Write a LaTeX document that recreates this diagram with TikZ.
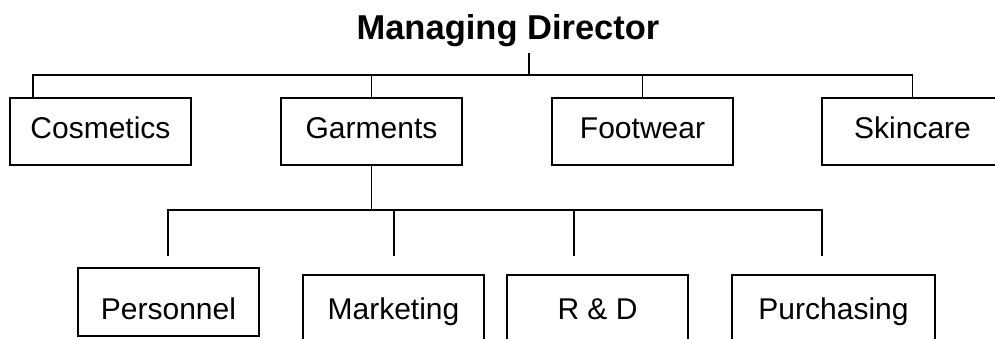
\documentclass[tikz,border=0pt]{standalone}
\usepackage{fontspec}
\setmainfont{Liberation Sans}
\usepackage{tikz}
\usetikzlibrary{positioning}
\tikzset{
    dept/.style={draw, line width=1.5pt, minimum width=181pt, minimum height=67pt,
        inner sep=0pt, text height=20pt, text depth=5pt, font=\fontsize{30}{35}\selectfont},
    unit/.style={dept, minimum height=73pt},
    link/.style={line width=1.5pt}
}

\begin{document}
\begin{tikzpicture}[x=1pt, y=-1pt]
                \useasboundingbox (0,0) rectangle (995,339);
                \node (md) [anchor=base, inner sep=0pt, font=\fontsize{34.5}{40}\selectfont\bfseries] at (508,40) {Managing Director};
                \node (cos) [dept] at (100.5,131.5) {Cosmetics};
                \node (gar) [dept] at (371.5,131.5) {Garments};
                \node (foot) [dept] at (642.5,131.5) {Footwear};
                \node (skin) [dept] at (912.5,131.5) {Skincare};
                \node (pers) [unit, minimum height=68pt, text height=39pt] at (168.5,302) {Personnel};
                \node (mkt) [unit] at (393.5,311.5) {Marketing};
                \node (rd) [unit] at (597.5,311.5) {R \& D};
                \node (pur) [unit, minimum width=203pt] at (833.5,311.5) {Purchasing};
                \coordinate (mdtick) at (529,53);
                \coordinate (bus) at (529,75);
                \coordinate (busl) at (33,75);
                \draw[link] (mdtick) -- (bus);
                \draw[link] (busl |- cos.north) -- (busl) -- (bus -| skin.north) -- (skin.north);
                \foreach \d in {gar,foot}
                    \draw[link] (\d.north) -- (\d.north |- bus);
                \coordinate (sub) at (168,210);
                \foreach \t/\x in {tpers/168, tmkt/394, trd/574, tpur/822}
                    \coordinate (\t) at (\x,256);
                \draw[link] (gar.south) -- (gar.south |- sub);
                \draw[link] (tpers) -- (tpers |- sub) -- (tpur |- sub) -- (tpur);
                \foreach \t in {tmkt,trd}
                    \draw[link] (\t) -- (\t |- sub);
            \end{tikzpicture}
\end{document}
